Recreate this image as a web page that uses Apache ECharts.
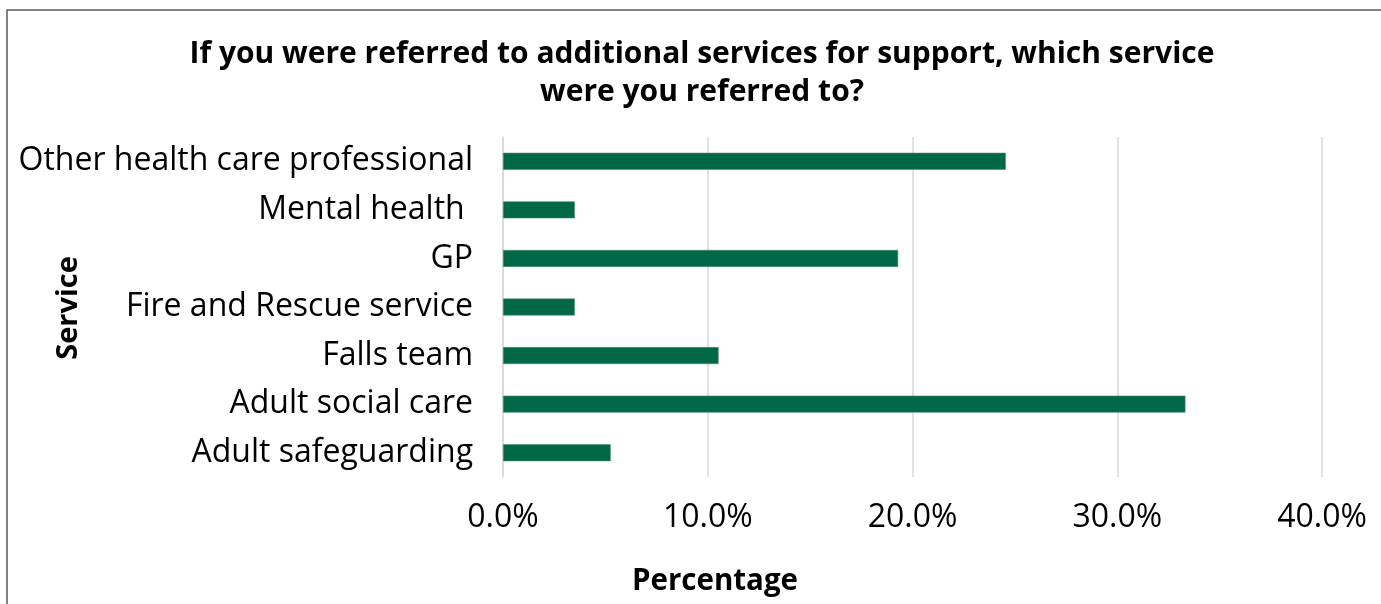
<!DOCTYPE html>
<html>
<head>
<meta charset="utf-8">
<script src="https://cdn.jsdelivr.net/npm/echarts@6/dist/echarts.min.js"></script>
<style>
html,body{margin:0;padding:0;background:#fff;}
#chart{width:1381px;height:604px;}
</style>
</head>
<body>
<div id="chart"></div>
<script>
const titleText = 'If you were referred to additional services for support, which service\nwere you referred to?';
const categories = ['Other health care professional', 'Mental health ', 'GP', 'Fire and Rescue service', 'Falls team', 'Adult social care', 'Adult safeguarding'];
const percentages = [24.56, 3.51, 19.30, 3.51, 10.53, 33.33, 5.26];
const xTicks = [0, 10, 20, 30, 40];
const xAxisTitle = 'Percentage';
const yAxisTitle = 'Service';

const chart = echarts.init(document.getElementById('chart'), null, {renderer: 'canvas'});
const FONT = '"Open Sans", "Noto Sans", sans-serif';
chart.setOption({
  backgroundColor: '#ffffff',
  animation: false,
  title: {
    text: titleText,
    left: 697,
    top: 30,
    textAlign: 'center',
    textStyle: {fontFamily: FONT, fontWeight: 'bold', fontSize: 30, lineHeight: 38, color: '#000'}
  },
  grid: {left: 503, right: 59, top: 137, bottom: 127, containLabel: false},
  xAxis: {
    type: 'value',
    min: xTicks[0],
    max: xTicks[xTicks.length - 1],
    interval: 10,
    axisLine: {show: false},
    axisTick: {show: false},
    splitLine: {show: true, lineStyle: {color: '#d9d9d9', width: 1.5}},
    axisLabel: {
      margin: 25,
      fontFamily: FONT, fontSize: 32, color: '#000',
      formatter: v => v.toFixed(1) + '%'
    }
  },
  yAxis: {
    type: 'category',
    data: categories,
    inverse: true,
    axisLine: {show: true, lineStyle: {color: '#d9d9d9', width: 1.5}},
    axisTick: {show: false},
    axisLabel: {margin: 30, fontFamily: FONT, fontSize: 32, color: '#000'}
  },
  series: [{
    type: 'bar',
    data: percentages,
    barWidth: 17,
    itemStyle: {color: '#006747', borderColor: '#4f8f7a', borderWidth: 0.6}
  }],
  graphic: [
    {type: 'rect', shape: {x: 7, y: 10, width: 1420, height: 700}, style: {fill: null, stroke: '#595959', lineWidth: 1.5}, silent: true},
    {type: 'text', x: 715, y: 582, style: {text: xAxisTitle, fontFamily: FONT, fontWeight: 'bold', fontSize: 29.5, fill: '#000', align: 'center', verticalAlign: 'middle'}},
    {type: 'text', x: 69, y: 308, rotation: Math.PI / 2, style: {text: yAxisTitle, fontFamily: FONT, fontWeight: 'bold', fontSize: 29, fill: '#000', align: 'center', verticalAlign: 'middle'}}
  ]
});
</script>
</body>
</html>
